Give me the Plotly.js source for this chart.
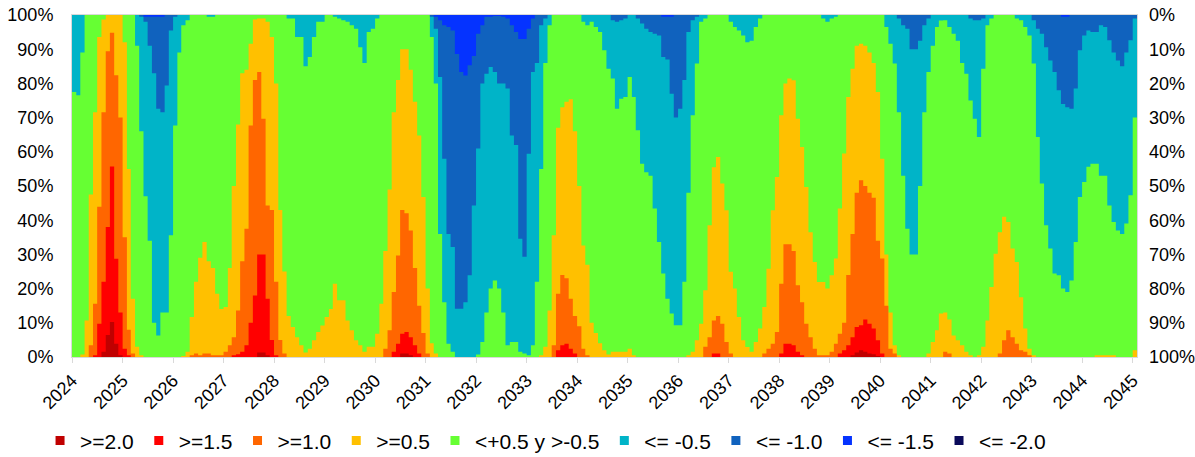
<!DOCTYPE html>
<html>
<head>
<meta charset="utf-8">
<script src="https://cdn.plot.ly/plotly-3.0.1.min.js"></script>
<style>
html,body{margin:0;padding:0;background:#ffffff;}
#chart{width:1195px;height:457px;}
</style>
</head>
<body>
<div id="chart"></div>
<script>
// Monthly series, January 2024 to January 2045 (253 months)
const startYear = 2024;
const yearTicks = [2024,2025,2026,2027,2028,2029,2030,2031,2032,2033,2034,2035,2036,2037,2038,2039,2040,2041,2042,2043,2044,2045];
const tickLabels = ["2024","2025","2026","2027","2028","2029","2030","2031","2032","2033","2034","2035","2036","2037","2038","2039","2040","2041","2042","2043","2044","2045"];
const yTickVals = [0,10,20,30,40,50,60,70,80,90,100];
const yTickText = ["0%","10%","20%","30%","40%","50%","60%","70%","80%","90%","100%"];

const seriesNames = ["&gt;=2.0","&gt;=1.5","&gt;=1.0","&gt;=0.5","&lt;+0.5 y &gt;-0.5","&lt;= -0.5","&lt;= -1.0","&lt;= -1.5","&lt;= -2.0"];
const seriesColors = ["#C00000","#FF0000","#FF6600","#FFC000","#66FF33","#00B4C8","#1062BE","#0533FF","#0A0A5A"];

// Probability (%) of anomaly >= threshold (read on the left axis, from the bottom)
const pGe20 = [
0,0,0,0,0,0,0,1.5,6.4,10.2,3.9,0.5,
0,0,0,0,0,0,0,0,0,0,0,0,
0,0,0,0,0,0,0,0,0,0,0,0,
0,0,0,0,0,0,0,0,1.3,1.3,0.5,0,
0,0,0,0,0,0,0,0,0,0,0,0,
0,0,0,0,0,0,0,0,0,0,0,0,
0,0,0,0,0,0,1,1,0.5,0,0,0,
0,0,0,0,0,0,0,0,0,0,0,0,
0,0,0,0,0,0,0,0,0,0,0,0,
0,0,0,0,0,0,0,0,0,0,0,0,
0,0,0,0,0,0,0,0,0,0,0,0,
0,0,0,0,0,0,0,0,0,0,0,0,
0,0,0,0,0,0,0,0,0,0,0,0,
0,0,0,0,0,0,0,0,0,0,0,0,
0,0,0,0,0,0,0,0,0,0,0,0,
0,0,0,0,0,0.5,1.3,2,1.5,1,0.8,0.3,
0,0,0,0,0,0,0,0,0,0,0,0,
0,0,0,0,0,0,0,0,0,0,0,0,
0,0,0,0,0,0,0,0,0,0,0,0,
0,0,0,0,0,0,0,0,0,0,0,0,
0,0,0,0,0,0,0,0,0,0,0,0,
0];
const pGe15 = [
0,0,0,0,0,0.5,9.7,22,38,55.7,28.7,13,
2.4,0.5,0,0,0,0,0,0,0,0,0,0,
0,0,0,0,0,0,0,0,0,0,0,0,
0,0,0.5,0.8,1.5,3.4,10,18,30,30,17,5,
0.5,0,0,0,0,0,0,0,0,0,0,0,
0,0,0,0,0,0,0,0,0,0,0,0,
0,0,0,0,1.5,3.9,6.8,7.3,5.8,3.4,1,0,
0,0,0,0,0,0,0,0,0,0,0,0,
0,0,0,0,0,0,0,0,0,0,0,0,
0,0,0,0,0,0,0,2,3.4,3.9,2.4,1,
0,0,0,0,0,0,0,0,0,0,0,0,
0,0,0,0,0,0,0,0,0,0,0,0,
0,0,0,0,0,0,0,0,1,1,0,0,
0,0,0,0,0,0,0,0,0,0,0,0,
1,3.9,3.9,3.4,1.5,0.5,0,0,0,0,0,0,
0,0,1,2,3.4,5.8,8.8,9.3,11,9.7,8.3,4.9,
1,0,0,0,0,0,0,0,0,0,0,0,
0,0,0,0,0,0,0,0,0,0,0,0,
0,0,0,0,0,0,0,0,0,0,0,0,
0,0,0,0,0,0,0,0,0,0,0,0,
0,0,0,0,0,0,0,0,0,0,0,0,
0];
const pGe10 = [
0,0,0,0,3.4,15.6,43.9,71.6,89.4,94.8,82.4,70,
35,8,1,0,0,0,0,0,0,0,0,0,
0,0,0,0,0.5,1,0.5,1,1,0.5,0.5,0.5,
1.5,3.4,5.8,13.6,28,37.5,67.7,81,83.3,69.7,44.3,43,
22,5,1,0,0,0,0,0,0,0,0,0,
0,0,0,0,0,0,0,0,0,0,0,0,
0,0,2.4,7.8,19,29.7,43,42,37,26,15,7,
1,0,0,0,0,0,0,0,0,0,0,0,
0,0,0,0,0,0,0,0,0,0,0,0,
0,0,0,0,0,0,3.4,18.5,24,23,17,12,
9,2.4,0.5,0,0,0,0,0,0,0,0,0,
0,0,0,0,0,0,0,0,0,0,0,0,
0,0,0,0,0,0,3,5.8,10.7,12,9.7,4.4,
1,0,0,0,0,0,0,0,1,2.4,3.9,7.3,
21.4,33,33,31,21,16,9.7,5.8,2.4,0.5,0.5,0.5,
1.5,3.9,6.8,10,24,36,48,51.7,50,48,46.6,34,
28.8,15,2.4,1,0,0,0,0,0,0,0,0,
0,0,0,1.5,1,0,0,0,0,0,0,0,
0,0,0,0,1,4.9,7.8,5.8,3.9,2,1.5,0.5,
0,0,0,0,0,0,0,0,0,0,0,0,
0,0,0,0,0,0,0,0,0,0,0,0,
0];
const pGe05 = [
0,0,0.7,10.7,47.5,71.6,93.6,98.7,100,100,100,100,
92,55,17,3,0.5,0,0,0,0,0,0,0,
0,0,0.3,1.5,11.7,22,29,33.6,28,26,18.5,14,
14.6,26,50,68,83,84,91.6,98.7,99,99,98,93.6,
80,43,25,12,8.8,5.8,3.4,1.3,2.4,4.9,7.3,9.2,
11.7,14,21.4,16.6,16.6,10.7,7.8,4.9,3.4,1.5,3,3,
6.8,15.6,31,49,71.6,81,90,90,84,74.6,64.8,46.8,
20,4,1,0,0,0,0,0,0,0,0,0,
0,0,0,0,0,0,0,0,0,0,0,0,
0,0,0,0.5,3,13.6,35.6,67,73,74.6,75.4,66,
50,32.6,27,10,7,4,2,0.7,1.5,1.5,1.5,1.5,
2.4,0.5,0,0,0,0,0,0,0,0,0,0,
0,0,0.5,1.5,4.9,9.7,19.5,38.5,55.5,58.5,50.7,42.9,
24.9,20,11.7,4.9,2.9,1.5,4.4,8.3,14.6,25.8,42.9,52.6,
70.7,80,81.4,80.9,69.7,61.4,49.7,36.5,27.8,21.9,21.9,20,
23.9,28.8,43.4,59.5,76,84.3,91,91.6,91,89,86,77.5,
58,30,13,3.4,0.5,0,0,0,0,0,0,1,
4.4,7.8,12.7,13,11,6.3,4.9,3.4,1.5,0.5,0,0.5,
3,10.7,20.5,30.2,36.5,41,39.5,31.7,27.8,17.5,8.3,2.4,
0.5,0,0,0,0,0,0,0,0,0,0,0,
0,0,0,0.5,0.5,0.5,0.5,0.5,0,0,0,0,
2];

// Probability (%) of anomaly <= threshold (read on the right axis, from the top)
const pLe05 = [
22.5,23.5,11,0,0,0,0,0,0,0,0,0,
0,0,0,9,34,53,66,90,93.7,87,87,64.4,
32.3,11,3,1.5,0,0,0,0,0.5,0.5,0,0,
0,0,0,0,0,0,0,0,0,0,0,0,
0,0,0,1,1,6.4,6.4,15,12.3,6.4,2,2,
0,0,0.5,1,1.5,2,3,4,9.4,14,5,4,
1,0,0,0,0,0,0,0,0,0,0,0,
0,6.4,20,64,84,96.1,98.5,100,100,100,100,100,
99.3,95.6,87,80,77.6,80,87,96.6,95.6,95.6,98.5,99,
99.5,96.6,78,45,14,3,0,0,0,0,0,0,
0,2,3,2,3.5,5,10.3,15.7,18.6,27.4,24.5,24,
18.1,24,33.7,43.5,46,47,56.6,66.4,75.6,83,87.3,90.7,
90.7,78,52,29.3,14.2,2,1,0,0,0,0,0,
2,3.5,4.5,6,8,7.5,3.5,1,0,0,0,0,
0,0,0,0,0,0,0,0,0,0,1,2,
1,0.5,0,0,0,0,0,0,0,0,0,0,
0,3.5,8.4,14.2,28.4,47,62.5,70,70,50,28.4,16.7,
9,3.5,1.6,1.5,3.5,5.5,7.5,14,17.2,25,30.3,35.7,
15.7,3,1,0,0,0,0,0,1,1.5,3.5,6,
14.2,35.7,49.3,61.5,68.3,75.6,76.1,80,81,77.6,66.4,53.2,
48.8,44.4,43.5,43.5,47,47,55.7,60.5,63,64,61,52.7,
30];
const pLe10 = [
0,0,0,0,0,0,0,0,0,0,0,0,
0,0,0,0,0.5,2,9,17,27.4,28.4,20.6,4.5,
0.5,0,0,0,0,0,0,0,0,0,0,0,
0,0,0,0,0,0,0,0,0,0,0,0,
0,0,0,0,0,0,0,0,0,0,0,0,
0,0,0,0,0,0,0,0,0,0,0,0,
0,0,0,0,0,0,0,0,0,0,0,0,
0,0.5,4,18.1,42,64,67.8,85.9,85.9,84,76.1,55.7,
39,20,17.2,15.2,16.7,20,20,21.5,35.2,38,65.4,70.7,
40.6,16.7,14,3,1,0,0,0,0,0,0,0,
0,0,0,0,0,0,0,0,1.5,2,1.5,1,
0,0,1,2.5,4,5,5.5,6,12.3,13,23,30,
27.4,19,5,1.5,0.5,0,0,0,0,0,0,0,
0,0,0,0,0,0,0,0,0,0,0,0,
0,0,0,0,0,0,0,0,0,0,0,0,
0,0,0,0,0,0,0,0,0,0,0,0,
0,0,0,0,1,3,4,10,10,7.5,3,1,
0,0,0,0,0,0,0,0,0,1,1.5,1.5,
1,0,0,0,0,0,0,0,0,0,0,0,
1.5,4,5.5,9.4,13.3,16.7,22,26,27,27.4,21.5,10.3,
6,4.5,5,5,3,3.5,7.4,11,13.3,15,11,7.4,
1];
const pLe15 = [
0,0,0,0,0,0,0,0,0,0,0,0,
0,0,0,0,0,0.5,0.5,0.5,0.5,0.5,0,0,
0,0,0,0,0,0,0,0,0,0,0,0,
0,0,0,0,0,0,0,0,0,0,0,0,
0,0,0,0,0,0,0,0,0,0,0,0,
0,0,0,0,0,0,0,0,0,0,0,0,
0,0,0,0,0,0,0,0,0,0,0,0,
0,0,0.5,1.5,3,3.5,4.5,11.4,16.7,17.7,14.7,12,
5.5,3,0.5,0.5,0.3,0.3,0.5,1,3,5,7,7,
4,1,0,0,0,0,0,0,0,0,0,0,
0,0,0,0,0,0,0,0,0,0,0,0,
0,0,0,0,0,0,0,0,0.5,0.5,0.5,0,
0,0,0,0,0,0,0,0,0,0,0,0,
0,0,0,0,0,0,0,0,0,0,0,0,
0,0,0,0,0,0,0,0,0,0,0,0,
0,0,0,0,0,0,0,0,0,0,0,0,
0,0,0,0,0,0,0,0,0,0,0,0,
0,0,0,0,0,0,0,0,0,0,0,0,
0,0,0,0,0,0,0,0,0,0,0,0,
0,0,0,0,0,0,0,0.5,0.5,0,0,0,
0,0,0,0,0,0,0,0,0,0,0,0,
0];
const pLe20 = [
0,0,0,0,0,0,0,0,0,0,0,0,
0,0,0,0,0,0,0,0,0,0,0,0,
0,0,0,0,0,0,0,0,0,0,0,0,
0,0,0,0,0,0,0,0,0,0,0,0,
0,0,0,0,0,0,0,0,0,0,0,0,
0,0,0,0,0,0,0,0,0,0,0,0,
0,0,0,0,0,0,0,0,0,0,0,0,
0,0,0,0,0,0,0,0,0,0,0,0,
0,0,0,0,0,0,0,0,0,0,0,0,
0,0,0,0,0,0,0,0,0,0,0,0,
0,0,0,0,0,0,0,0,0,0,0,0,
0,0,0,0,0,0,0,0,0,0,0,0,
0,0,0,0,0,0,0,0,0,0,0,0,
0,0,0,0,0,0,0,0,0,0,0,0,
0,0,0,0,0,0,0,0,0,0,0,0,
0,0,0,0,0,0,0,0,0,0,0,0,
0,0,0,0,0,0,0,0,0,0,0,0,
0,0,0,0,0,0,0,0,0,0,0,0,
0,0,0,0,0,0,0,0,0,0,0,0,
0,0,0,0,0,0,0,0,0,0,0,0,
0,0,0,0,0,0,0,0,0,0,0,0,
0];

// month start dates; one extra closing edge so the final monthly step has width
function monthDate(i){
  const y = startYear + Math.floor(i/12), m = i % 12 + 1;
  return y + "-" + (m < 10 ? "0" + m : m) + "-01";
}
const nMonths = pGe05.length;
const xEdges = [];
for (let i = 0; i <= nMonths; i++) xEdges.push(monthDate(i));
const closeStep = a => a.concat([a[a.length - 1]]);

function band(y, color, axis){
  return {x: xEdges, y: closeStep(y), type: "scatter", mode: "lines",
    line: {width: 0, shape: "hv", color: color}, fill: "tozeroy", fillcolor: color,
    yaxis: axis, showlegend: false, hoverinfo: "skip"};
}
const traces = [
  band(pGe05, seriesColors[3], "y"),
  band(pGe10, seriesColors[2], "y"),
  band(pGe15, seriesColors[1], "y"),
  band(pGe20, seriesColors[0], "y"),
  band(pLe05, seriesColors[5], "y2"),
  band(pLe10, seriesColors[6], "y2"),
  band(pLe15, seriesColors[7], "y2"),
  band(pLe20, seriesColors[8], "y2")
];
// legend entries
seriesNames.forEach((name, k) => {
  traces.push({x: [null], y: [null], type: "scatter", mode: "markers", name: name,
    marker: {symbol: "square", size: 9, color: seriesColors[k]}, showlegend: true, hoverinfo: "skip"});
});

const fam = "Liberation Sans, Arial, sans-serif";
const tickFont = {family: fam, size: 18, color: "#000000"};
const layout = {
  width: 1195, height: 457,
  margin: {l: 72, r: 58, t: 15, b: 100, autoexpand: false},
  paper_bgcolor: "#ffffff",
  plot_bgcolor: seriesColors[4],
  showlegend: true,
  legend: {orientation: "h", x: -0.03, xanchor: "left", y: -0.245, yanchor: "middle",
    font: {family: fam, size: 21, color: "#000000"},
    itemwidth: 30, tracegroupgap: 0},
  xaxis: {type: "date", range: [monthDate(0), monthDate(nMonths)],
    tickvals: yearTicks.map(y => y + "-01-01"), ticktext: tickLabels,
    tickangle: -45, ticks: "outside", ticklen: 5, tickcolor: "#D9D9D9",
    showline: true, linecolor: "#D9D9D9", linewidth: 1, mirror: true,
    showgrid: false, zeroline: false, tickfont: tickFont, fixedrange: true, automargin: false},
  yaxis: {range: [0, 100], tickvals: yTickVals, ticktext: yTickText,
    showgrid: false, zeroline: false, showline: true, linecolor: "#D9D9D9", mirror: true,
    ticks: "", ticklabelstandoff: 14, tickfont: tickFont, fixedrange: true, automargin: false},
  yaxis2: {range: [100, 0], tickvals: yTickVals, ticktext: yTickText, overlaying: "y", side: "right",
    showgrid: false, zeroline: false, showline: false,
    ticks: "", ticklabelstandoff: 11, tickfont: tickFont, fixedrange: true, automargin: false}
};
Plotly.newPlot("chart", traces, layout, {displayModeBar: false, staticPlot: true});
</script>
</body>
</html>
